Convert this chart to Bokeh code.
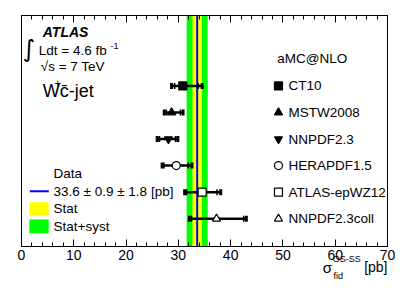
import math
from bokeh.plotting import figure
from bokeh.models import (Range1d, LinearAxis, SingleIntervalTicker, BoxAnnotation,
                          Span, Label)
from bokeh.core.properties import value
from bokeh.embed import file_html
from bokeh.resources import INLINE

# ---------------- data ----------------
pdf_names = ["CT10", "MSTW2008", "NNPDF2.3", "HERAPDF1.5", "ATLAS-epWZ12", "NNPDF2.3coll"]
rows = [6, 5, 4, 3, 2, 1]
central = [30.85, 28.7, 28.1, 29.6, 34.55, 37.3]
inner_lo = [29.3, 27.7, 26.4, 27.25, 31.55, 32.5]
inner_hi = [33.8, 30.4, 29.45, 31.9, 37.4, 42.5]
outer_lo = [28.7, 27.3, 25.95, 26.9, 31.2, 32.1]
outer_hi = [34.55, 30.9, 29.9, 32.6, 38.1, 43.0]
markers = ["square", "triangle", "inverted_triangle", "circle", "square", "triangle"]
filled = [True, True, True, False, False, False]

data_value = 33.6
data_stat = 0.9
data_syst = 1.8

x_ticks_interval = 10
x_min, x_max = 0, 70

FONT = "Liberation Sans"
TXT = "13.5px"

# ---------------- figure ----------------
p = figure(width=407, height=294, output_backend="svg", toolbar_location=None,
           x_range=Range1d(x_min, x_max), y_range=Range1d(-0.045, 8.65),
           y_axis_location=None, x_axis_location="below",
           min_border_left=21, min_border_right=20, min_border_top=15, min_border_bottom=48)
p.grid.visible = False
p.outline_line_color = "black"
p.outline_line_width = 1
p.background_fill_color = "white"
p.border_fill_color = "white"

ticker = SingleIntervalTicker(interval=x_ticks_interval, num_minor_ticks=5)
ax = p.xaxis[0]
ax.ticker = ticker
ax.major_tick_in = 7
ax.major_tick_out = 0
ax.minor_tick_in = 4
ax.minor_tick_out = 0
ax.axis_line_color = "black"
ax.major_label_text_font = FONT
ax.major_label_text_font_size = "14px"
ax.major_label_text_color = "black"
ax.major_label_standoff = 3

top = LinearAxis(ticker=ticker, major_tick_in=7, major_tick_out=0, minor_tick_in=4,
                 minor_tick_out=0, major_label_text_font_size="1px",
                 major_label_text_color=None, major_label_standoff=0,
                 axis_line_color="black")
p.add_layout(top, "above")

# ---------------- data bands ----------------
tot = math.sqrt(data_stat ** 2 + data_syst ** 2)
p.add_layout(BoxAnnotation(left=data_value - tot, right=data_value + tot,
                           fill_color="#00ff00", fill_alpha=1, line_color=None, level="underlay"))
p.add_layout(BoxAnnotation(left=data_value - data_stat, right=data_value + data_stat,
                           fill_color="#ffff00", fill_alpha=1, line_color=None, level="underlay"))
p.add_layout(Span(location=data_value, dimension="height", line_color="#0000ff",
                  line_width=2, level="underlay"))

# ---------------- predictions ----------------
p.segment(x0=outer_lo, y0=rows, x1=outer_hi, y1=rows, line_color="black", line_width=2.5)
p.scatter(x=outer_lo + outer_hi, y=rows + rows, marker="dash", angle=math.pi / 2,
          size=6, line_color="black", line_width=3)
p.scatter(x=inner_lo + inner_hi, y=rows + rows, marker="dash", angle=math.pi / 2,
          size=6, line_color="black", line_width=1.5)
fills = ["black" if f else "white" for f in filled]
p.scatter(x=central, y=rows, marker=markers, size=8, fill_color=fills,
          line_color="black", line_width=1.2)

# legend markers on the right
leg_x = 49.15
p.scatter(x=[leg_x] * len(rows), y=rows, marker=markers, size=8, fill_color=fills,
          line_color="black", line_width=1.2)


def lab(x, y, text, size=TXT, style="normal", align="left", baseline="middle", font=FONT):
    p.add_layout(Label(x=x, y=y, text=text, text_font=font, text_font_size=size,
                       text_font_style=style, text_align=align, text_baseline=baseline,
                       text_color="black"))


def outer_text(x, y, text, size, align="left"):
    p.text(x=[x], y=[y], text=[text], text_font=value(FONT), text_font_size=size,
           text_align=align, text_baseline="middle", text_color="black", level="overlay")


for r, name in zip(rows, pdf_names):
    lab(51.06, r, name)
lab(48.9, 7.02, "aMC@NLO")

# top-left block
lab(1.45, 7.38, "\u222b", size="24px", font="DejaVu Sans", align="center")
lab(4.07, 8.02, "ATLAS", size="14px", style="bold italic")
lab(3.31, 7.33, "Ldt = 4.6 fb")
lab(17.0, 7.52, "-1", size="9px")
lab(3.69, 6.72, "\u221as = 7 TeV")
lab(4.07, 5.80, "W", size="18px")
lab(6.3, 6.1, "+", size="11px")
lab(7.3, 5.80, "c\u0304-jet", size="18px")

# bottom-left legend
lab(6.12, 2.69, "Data")
p.segment(x0=[1.59], y0=[2.03], x1=[5.22], y1=[2.03], line_color="#0000ff", line_width=2)
lab(6.12, 2.03, f"{data_value} \u00b1 {data_stat} \u00b1 {data_syst} [pb]")
p.quad(left=[1.5], right=[5.2], bottom=[1.12], top=[1.62], fill_color="#ffff00", line_color=None)
lab(6.12, 1.38, "Stat")
p.quad(left=[1.5], right=[5.2], bottom=[0.45], top=[0.97], fill_color="#00ff00", line_color=None)
lab(6.12, 0.71, "Stat+syst")

# x-axis title (sigma_fid^OS-SS [pb])
outer_text(57.62, -0.83, "\u03c3", "15px")
outer_text(59.53, -0.53, "OS-SS", "9px")
outer_text(59.67, -1.14, "fid", "9px")
outer_text(70.0, -0.80, "[pb]", "14px", align="right")

open("out.html", "w").write(file_html(p, INLINE))
